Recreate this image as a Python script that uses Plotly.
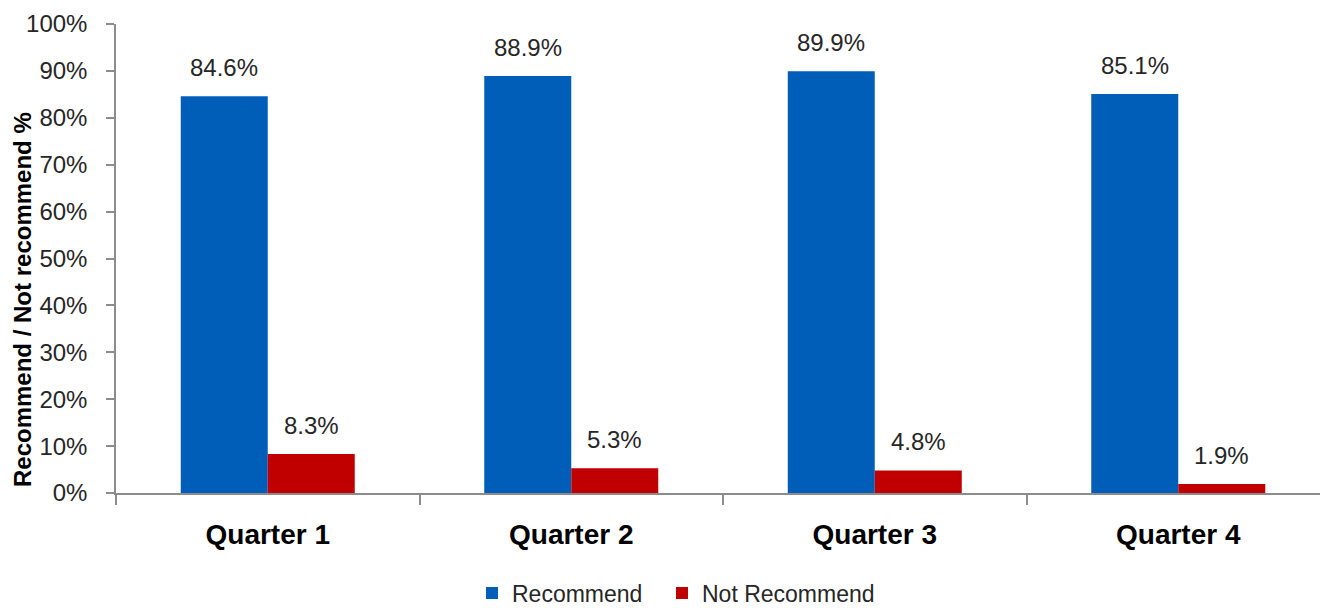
import plotly.graph_objects as go

# Share of respondents who would / would not recommend, by quarter
quarters = ["Quarter 1", "Quarter 2", "Quarter 3", "Quarter 4"]
recommend = [84.6, 88.9, 89.9, 85.1]
not_recommend = [8.3, 5.3, 4.8, 1.9]
y_tick_values = [0, 10, 20, 30, 40, 50, 60, 70, 80, 90, 100]
y_tick_labels = [f"{v}%" for v in y_tick_values]

BLUE = "#005EB8"
RED = "#C00000"
AXIS = "#8C8C8C"
TEXT = "#262626"
FONT = "Liberation Sans, Arial, sans-serif"

W, H = 1320, 608
M_L, M_R, M_T, M_B = 116, 0, 24, 115
X_RANGE = [-0.5, 3.467]
BARGAP = 0.4267

# pixel geometry used to centre value labels over each bar of a group
plot_w = W - M_L - M_R
plot_h = H - M_T - M_B
cat_px = plot_w / (X_RANGE[1] - X_RANGE[0])
bar_px = cat_px * (1 - BARGAP) / 2

fig = go.Figure()
fig.add_trace(go.Bar(name="Recommend", x=quarters, y=recommend,
                     marker=dict(color=BLUE, line=dict(width=0)),
                     legend="legend"))
fig.add_trace(go.Bar(name="Not Recommend", x=quarters, y=not_recommend,
                     marker=dict(color=RED, line=dict(width=0)),
                     legend="legend2"))

annotations = []
for series, shift in ((recommend, -bar_px / 2), (not_recommend, bar_px / 2)):
    for q, v in zip(quarters, series):
        annotations.append(dict(
            x=q, y=v, xref="x", yref="y", text=f"{v:.1f}%",
            showarrow=False, xanchor="center", yanchor="bottom",
            xshift=shift, yshift=13,
            font=dict(family=FONT, size=24, color=TEXT)))

# rotated y-axis title
annotations.append(dict(
    x=(22 - M_L) / plot_w, y=(H - M_B - 300) / plot_h,
    xref="paper", yref="paper", text="<b>Recommend / Not recommend %</b>",
    textangle=-90, showarrow=False, xanchor="center", yanchor="middle",
    font=dict(family=FONT, size=24, color="#000000")))

legend_y = (H - M_B - 593) / plot_h
legend_common = dict(orientation="h", xanchor="left", y=legend_y,
                     yanchor="middle", itemwidth=30,
                     font=dict(family=FONT, size=23, color=TEXT),
                     bgcolor="rgba(0,0,0,0)")

fig.update_layout(
    width=W, height=H,
    margin=dict(l=M_L, r=M_R, t=M_T, b=M_B, pad=0, autoexpand=False),
    paper_bgcolor="white", plot_bgcolor="white",
    barmode="group", bargap=BARGAP, bargroupgap=0,
    font=dict(family=FONT, size=24, color=TEXT),
    showlegend=True,
    legend=dict(x=(472 - M_L) / plot_w, **legend_common),
    legend2=dict(x=(662 - M_L) / plot_w, **legend_common),
    annotations=annotations,
)

fig.update_xaxes(
    type="category", range=X_RANGE, showgrid=False, zeroline=False,
    showline=True, linecolor=AXIS, linewidth=1.5, automargin=False,
    ticks="outside", tickson="boundaries", ticklen=10, tickwidth=1.5,
    tickcolor=AXIS, ticklabelstandoff=16,
    tickfont=dict(family=FONT, size=28, color="#000000"),
    tickprefix="<b>", ticksuffix="</b>")

fig.update_yaxes(
    range=[0, 100], tickvals=y_tick_values, ticktext=y_tick_labels,
    showgrid=False, zeroline=False, showline=True, linecolor=AXIS,
    linewidth=1.5, ticks="outside", ticklen=8, tickwidth=1.5, automargin=False,
    tickcolor=AXIS, ticklabelstandoff=14,
    tickfont=dict(family=FONT, size=24, color=TEXT))

fig.write_html("out.html")
